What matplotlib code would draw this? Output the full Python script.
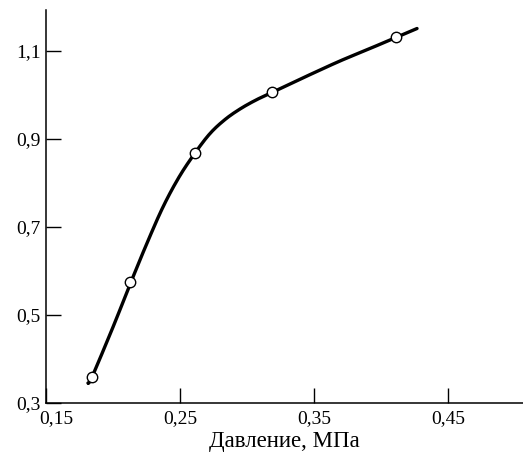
import matplotlib
matplotlib.use("Agg")
import matplotlib.pyplot as plt
import matplotlib.transforms as mtransforms
import numpy as np

# measured points (open circles)
pressure = [0.184, 0.213, 0.261, 0.319, 0.411]
value = [0.36, 0.575, 0.868, 1.007, 1.132]

# smooth curve
curve_x = [0.1813, 0.1843, 0.2000, 0.2134, 0.2254, 0.2373, 0.2493, 0.2612, 0.2724,
           0.2836, 0.2948, 0.3067, 0.3194, 0.3448, 0.3694, 0.3918, 0.4112, 0.4269]
curve_y = [0.3455, 0.3591, 0.4727, 0.5750, 0.6636, 0.7455, 0.8136, 0.8682, 0.9125,
           0.9443, 0.9682, 0.9886, 1.0068, 1.0432, 1.0773, 1.1057, 1.1307, 1.1511]

xticks = [0.15, 0.25, 0.35, 0.45]
xtick_labels = ["0,15", "0,25", "0,35", "0,45"]
yticks = [0.3, 0.5, 0.7, 0.9, 1.1]
ytick_labels = ["0,3", "0,5", "0,7", "0,9", "1,1"]


def _smooth(xs, ys, n=12):
    """Catmull-Rom path through the traced nodes, only to draw a round line."""
    p = np.column_stack([xs, ys]).astype(float)
    p = np.vstack([p[0], p, p[-1]])
    t = np.linspace(0, 1, n, endpoint=False)[:, None]
    out = []
    for i in range(1, len(p) - 2):
        p0, p1, p2, p3 = p[i - 1], p[i], p[i + 1], p[i + 2]
        out.append(0.5 * (2 * p1 + (-p0 + p2) * t + (2 * p0 - 5 * p1 + 4 * p2 - p3) * t ** 2
                          + (-p0 + 3 * p1 - 3 * p2 + p3) * t ** 3))
    out.append(p[-2][None, :])
    out = np.vstack(out)
    return out[:, 0], out[:, 1]


plt.rcParams["font.family"] = ["Liberation Serif", "DejaVu Serif"]

fig = plt.figure(figsize=(5.23, 4.58), dpi=100)
ax = fig.add_axes([0.088, 0.120, 0.912, 0.858])

sx, sy = _smooth(curve_x, curve_y)
ax.plot(sx, sy, "-", color="black", lw=2.4, solid_capstyle="round", zorder=2)
ax.plot(pressure, value, "o", ms=7.5, mfc="white", mec="black", mew=1.0, zorder=3)

ax.set_xlim(0.15, 0.506)
ax.set_ylim(0.3, 1.193)
ax.set_xticks(xticks)
ax.set_xticklabels(xtick_labels)
ax.set_yticks(yticks)
ax.set_yticklabels(ytick_labels)
ax.tick_params(direction="in", length=11, width=1.0, labelsize=14, color="black")
ax.tick_params(axis="x", pad=5)
ax.tick_params(axis="y", pad=4)

# first x label sits a little to the right of its tick, clear of "0,3"
lab0 = ax.get_xticklabels()[0]
lab0.set_transform(lab0.get_transform() + mtransforms.ScaledTranslation(10 / 100, 0, fig.dpi_scale_trans))

for s in ("top", "right"):
    ax.spines[s].set_visible(False)
for s in ("left", "bottom"):
    ax.spines[s].set_linewidth(1.1)

ax.set_xlabel("Давление, МПа", fontsize=16.5, labelpad=3)

fig.savefig("out.png", dpi=100)
